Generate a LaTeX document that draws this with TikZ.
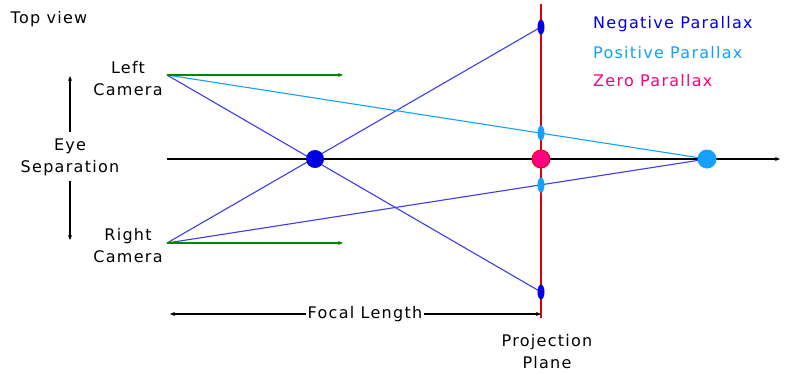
\documentclass[tikz,border=0pt]{standalone}
\usepackage{fontspec}
\setmainfont{DejaVu Sans}[LetterSpace=8]
\usetikzlibrary{arrows.meta,shapes.geometric}
\definecolor{negblue}{RGB}{0,0,225}
\definecolor{linblue}{RGB}{60,60,235}
\definecolor{posblue}{RGB}{20,160,255}
\definecolor{zeropink}{RGB}{255,0,128}
\definecolor{planered}{RGB}{225,0,0}
\definecolor{camgreen}{RGB}{0,135,0}
\tikzset{
  lbl/.style={font=\fontsize{16}{22}\selectfont, align=center, inner sep=1pt},
  tip/.style={-{Stealth[length=5pt,width=4pt]}},
  ray/.style={line width=1.1pt},
  dotnode/.style={circle, inner sep=0pt, minimum size=#1},
  ellnode/.style={ellipse, inner sep=0pt, minimum width=7pt, minimum height=15pt, fill=#1},
}
\begin{document}
\begin{tikzpicture}[x=1pt,y=-1pt]
\useasboundingbox (0,0) rectangle (785,373);
% key points
\coordinate (L) at (167,75);
\coordinate (R) at (167,243);
\coordinate (N) at (315,159);
\coordinate (Z) at (541,159);
\coordinate (P) at (707,159);
\coordinate (NT) at (541,27);
\coordinate (NB) at (541,292);
\coordinate (PT) at (541,133);
\coordinate (PB) at (541,185);
\coordinate (axend) at (780,159);
\coordinate (planetop) at (541,4);
\coordinate (planebot) at (541,318);
\coordinate (gL) at (343,75);
\coordinate (gR) at (343,243);
\coordinate (eyeT) at (70,76);
\coordinate (eyeTs) at (70,132);
\coordinate (eyeB) at (70,240);
\coordinate (eyeBs) at (70,181);
\coordinate (fl) at (170,314);
\coordinate (fr) at (541,314);
% axis and plane
\draw[line width=1.2pt, tip] (L |- N) -- (axend);
\draw[planered, line width=1.1pt] (planetop) -- (planebot);
% rays
\draw[ray, linblue] (L) -- (NB);
\draw[ray, linblue] (R) -- (NT);
\draw[ray, posblue] (L) -- (P);
\draw[ray, linblue] (R) -- (P);
% camera direction arrows
\draw[camgreen, line width=1.1pt, tip] (L) -- (gL);
\draw[camgreen, line width=1.1pt, tip] (R) -- (gR);
% dots
\node[dotnode=18pt, fill=negblue] (nd) at (N) {};
\node[dotnode=18pt, fill=zeropink, draw=planered, line width=0.8pt] (zd) at (Z) {};
\node[dotnode=19pt, fill=posblue] (pd) at (P) {};
\node[ellnode=negblue] (ntd) at (NT) {};
\node[ellnode=negblue] (nbd) at (NB) {};
\node[ellnode=posblue] (ptd) at (PT) {};
\node[ellnode=posblue] (pbd) at (PB) {};
% eye separation
\draw[line width=1.1pt, tip] (eyeTs) -- (eyeT);
\draw[line width=1.1pt, tip] (eyeBs) -- (eyeB);
% focal length
\draw[line width=1.1pt, {Stealth[length=5pt,width=4pt]}-{Stealth[length=5pt,width=4pt]}] (fl) -- (fr);
\node[lbl, fill=white, inner xsep=2pt] (fltxt) at (365,314) {Focal Length};
% labels
\node[lbl] (top) at (49,19) {Top view};
\node[lbl] (lc) at (128,79) {Left\\Camera};
\node[lbl] (rc) at (128,246) {Right\\Camera};
\node[lbl] (es) at (70,157) {Eye\\Separation};
\node[lbl] (pp) at (547,352) {Projection\\Plane};
\node[lbl, anchor=west, text=negblue] (leg1) at (592,24) {Negative Parallax};
\node[lbl, anchor=west, text=posblue] (leg2) at (592,53) {Positive Parallax};
\node[lbl, anchor=west, text=zeropink] (leg3) at (592,81) {Zero Parallax};
\end{tikzpicture}
\end{document}
